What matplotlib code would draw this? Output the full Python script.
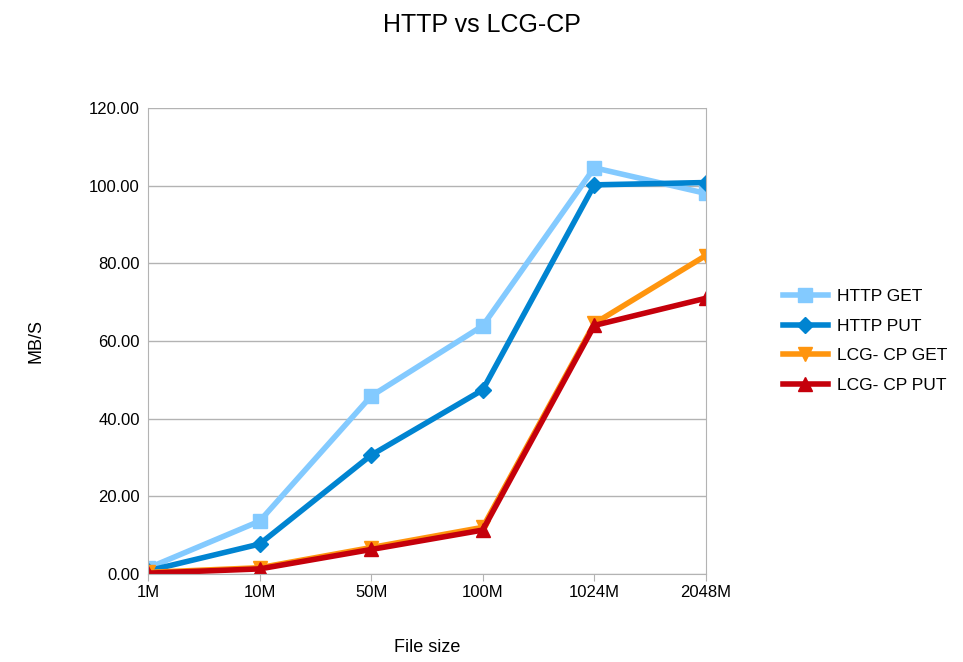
import matplotlib.pyplot as plt
from matplotlib.ticker import FormatStrFormatter

plt.rcParams['font.family'] = ['Liberation Sans', 'DejaVu Sans']

sizes = ["1M", "10M", "50M", "100M", "1024M", "2048M"]
http_get = [1.5, 13.6, 45.8, 63.9, 104.6, 98.0]
http_put = [0.8, 7.7, 30.6, 47.4, 100.2, 100.8]
lcg_get = [0.4, 1.6, 6.8, 12.0, 64.5, 82.0]
lcg_put = [0.2, 1.3, 6.3, 11.3, 64.0, 71.0]

series = [
    ("HTTP GET", http_get, "#83caff", "s", 10),
    ("HTTP PUT", http_put, "#0084d1", "D", 8),
    ("LCG- CP GET", lcg_get, "#ff950e", "v", 10),
    ("LCG- CP PUT", lcg_put, "#c5000b", "^", 10),
]

fig = plt.figure(figsize=(9.63, 6.62), dpi=100)
ax = fig.add_axes([0.1537, 0.133, 0.733 - 0.1537, 0.8369 - 0.133])

x = range(len(sizes))
for label, vals, color, marker, ms in series:
    ax.plot(x, vals, color=color, linewidth=4, marker=marker, markersize=ms,
            label=label, solid_joinstyle="miter")

ax.set_xlim(0, len(sizes) - 1)
ax.set_ylim(0, 120)
ax.set_yticks(range(0, 121, 20))
ax.yaxis.set_major_formatter(FormatStrFormatter("%.2f"))
ax.set_xticks(list(x))
ax.set_xticklabels(sizes)
ax.grid(axis="y", color="#b3b3b3", linewidth=1)
ax.set_axisbelow(True)
for sp in ax.spines.values():
    sp.set_color("#b3b3b3")
ax.spines["top"].set_visible(False)
ax.tick_params(axis="both", labelsize=12, color="#b3b3b3", length=5)
ax.tick_params(axis="y", length=0, pad=6)
ax.tick_params(axis="x", direction="out", pad=3)

ax.set_xlabel("File size", fontsize=13, labelpad=28)
ax.set_ylabel("MB/S", fontsize=13, labelpad=32)
fig.suptitle("HTTP vs LCG-CP", fontsize=18, y=0.98)

ax.legend(loc="center left", bbox_to_anchor=(1.11, 0.5), frameon=False,
          fontsize=12.5, handlelength=2.6, labelspacing=0.85, handletextpad=0.5)

fig.savefig("out.png", dpi=100)
